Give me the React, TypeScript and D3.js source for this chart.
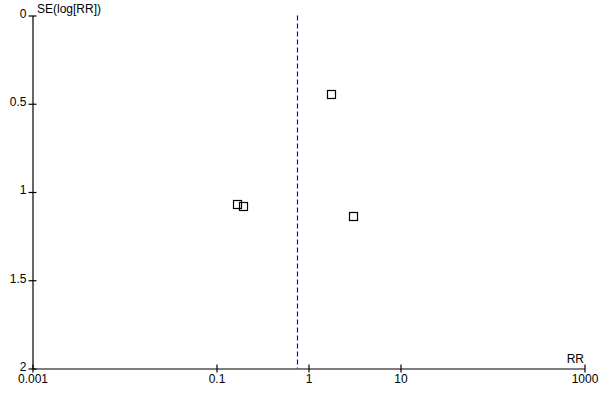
import React, { useEffect, useRef } from "react"
import * as d3 from "d3"

// study estimates (risk ratio) and standard error of log(RR)
const rr = [1.77, 0.169, 0.196, 3.06]
const se = [0.447, 1.069, 1.081, 1.137]
const pooled = 0.745

const xTicks = [0.001, 0.1, 1, 10, 1000]
const yTicks = [0, 0.5, 1, 1.5, 2]

const App = () => {
  const ref = useRef<SVGSVGElement>(null)

  useEffect(() => {
    const svg = d3.select(ref.current)
    svg.selectAll("*").remove()

    const x = d3.scaleLog().domain([0.001, 1000]).range([32.5, 584.5])
    const y = d3.scaleLinear().domain([0, 2]).range([15.5, 368.5])

    const font = "Arial, 'Liberation Sans', sans-serif"

    const xAxis = svg.append("g")
      .attr("transform", "translate(0," + y(2) + ")")
      .call(d3.axisBottom(x).tickValues(xTicks).tickFormat(d => String(d)).tickSizeOuter(0).tickSizeInner(4).tickPadding(2))
    xAxis.selectAll(".tick line").attr("y1", -4).attr("y2", 4)

    const yAxis = svg.append("g")
      .attr("transform", "translate(" + x(0.001) + ",0)")
      .call(d3.axisLeft(y).tickValues(yTicks).tickFormat(d => String(d)).tickSizeOuter(0).tickSizeInner(4).tickPadding(2))
    yAxis.selectAll(".tick line").attr("x1", -4).attr("x2", 4)
    yAxis.selectAll(".tick text").attr("dy", "0.15em")

    svg.selectAll(".domain").attr("stroke", "#000").attr("stroke-width", 1.2)
    svg.selectAll(".tick line").attr("stroke", "#000").attr("stroke-width", 1.2)
    svg.selectAll("g").attr("font-family", font).attr("font-size", 12)
    svg.selectAll(".tick text").attr("fill", "#000")

    // pooled estimate
    svg.append("line")
      .attr("x1", Math.round(x(pooled)) + 0.5)
      .attr("x2", Math.round(x(pooled)) + 0.5)
      .attr("y1", y(0))
      .attr("y2", y(2))
      .attr("stroke", "#0000ff")
      .attr("stroke-width", 1.2)
      .attr("stroke-dasharray", "5,3")

    svg.selectAll("rect.pt")
      .data(rr)
      .enter()
      .append("rect")
      .attr("class", "pt")
      .attr("x", d => Math.round(x(d)) - 3.5)
      .attr("y", (d, i) => Math.round(y(se[i])) - 3.5)
      .attr("width", 8)
      .attr("height", 8)
      .attr("fill", "none")
      .attr("stroke", "#000")
      .attr("stroke-width", 1.2)

    svg.append("text")
      .attr("x", 37)
      .attr("y", 13)
      .attr("font-family", font)
      .attr("font-size", 12)
      .text("SE(log[RR])")

    svg.append("text")
      .attr("x", 584)
      .attr("y", 363)
      .attr("text-anchor", "end")
      .attr("font-family", font)
      .attr("font-size", 12)
      .text("RR")
  }, [])

  return (
    <svg ref={ref} width={600} height={400} style={{ position: "absolute", left: 0, top: 0, background: "#fff" }} />
  )
}

export default App
